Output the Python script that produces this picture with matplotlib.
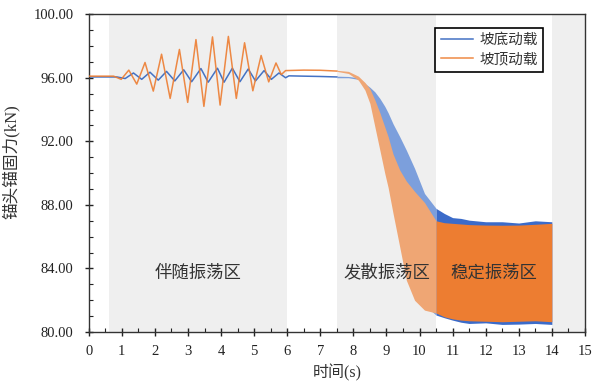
import matplotlib
matplotlib.use("Agg")
import matplotlib.pyplot as plt

plt.rcParams['font.family'] = ['Liberation Serif', 'Noto Sans CJK SC']
plt.rcParams['axes.unicode_minus'] = False

# 0 - 7.5 s: individual curves (turning points)
t_bottom = [0, 0.85, 1.1, 1.35, 1.6, 1.85, 2.1, 2.35, 2.6, 2.87, 3.11, 3.39, 3.61,
            3.89, 4.09, 4.34, 4.57, 4.82, 5.04, 5.3, 5.52, 5.75, 5.95, 6.05, 6.5, 7.0, 7.5]
f_bottom = [96.05, 96.05, 95.95, 96.3, 95.9, 96.35, 95.85, 96.4, 95.8, 96.5, 95.75, 96.58, 95.72,
            96.6, 95.72, 96.6, 95.75, 96.55, 95.8, 96.45, 95.9, 96.3, 96.0, 96.12, 96.1, 96.08, 96.05]

t_top = [0, 0.6, 0.75, 0.98, 1.21, 1.45, 1.70, 1.95, 2.20, 2.46, 2.74, 2.99, 3.24, 3.48,
         3.74, 3.97, 4.22, 4.46, 4.71, 4.96, 5.21, 5.44, 5.66, 5.82, 5.95, 6.5, 7.0, 7.5]
f_top = [96.1, 96.1, 96.1, 95.9, 96.48, 95.6, 96.96, 95.16, 97.48, 94.7, 97.78, 94.45, 98.4, 94.2,
         98.57, 94.28, 98.6, 94.7, 98.2, 95.18, 97.4, 95.74, 96.93, 96.2, 96.45, 96.48, 96.47, 96.42]

# 7.5 - 14 s: dense oscillation, upper / lower envelopes
t_band = [7.5, 7.85, 8.15, 8.35, 8.5, 8.65, 8.8, 8.95, 9.05, 9.2, 9.4, 9.6, 9.85, 10.15,
          10.5, 10.75, 11.0, 11.25, 11.5, 12.0, 12.5, 13.0, 13.5, 14.0]
bottom_hi = [96.1, 96.08, 96.0, 95.64, 95.4, 95.11, 94.7, 94.2, 93.8, 93.1, 92.3, 91.45, 90.3, 88.72,
             87.78, 87.46, 87.2, 87.15, 87.04, 86.94, 86.94, 86.86, 87.0, 86.94]
bottom_lo = [96.0, 96.0, 95.9, 95.5, 94.7, 93.2, 91.75, 90.3, 89.4, 87.8, 85.7, 83.6, 82.3, 81.7,
             81.07, 80.9, 80.75, 80.62, 80.54, 80.58, 80.48, 80.5, 80.54, 80.48]
top_hi = [96.47, 96.4, 96.1, 95.7, 95.3, 94.6, 93.8, 92.9, 92.3, 91.2, 90.2, 89.5, 88.85, 88.15,
          87.0, 86.88, 86.84, 86.8, 86.76, 86.73, 86.72, 86.73, 86.78, 86.84]
top_lo = [96.4, 96.27, 95.85, 95.22, 94.38, 92.91, 91.45, 89.98, 89.1, 87.46, 85.37, 83.27, 82.0, 81.38,
          81.2, 80.96, 80.83, 80.75, 80.71, 80.68, 80.65, 80.68, 80.71, 80.65]

zones = [(0.6, 6.0), (7.5, 10.5), (14.0, 15.0)]
zone_labels = ['伴随振荡区', '发散振荡区', '稳定振荡区']
zone_label_x = [3.3, 9.0, 12.25]

blue = '#4472C4'
orange = '#ED7D31'

fig = plt.figure(figsize=(5.92, 3.83), dpi=100)
ax = fig.add_axes([0.150, 0.133, 0.838, 0.830])

for a, b in zones:
    ax.axvspan(a, b, color='#efefef', lw=0, zorder=0)

ax.plot(t_bottom, f_bottom, color=blue, lw=1.1, label='坡底动载', zorder=2)
ax.plot(t_top, f_top, color=orange, lw=1.1, alpha=0.9, label='坡顶动载', zorder=3)

k = t_band.index(10.5)
ax.fill_between(t_band[:k + 1], bottom_lo[:k + 1], bottom_hi[:k + 1], color='#7c9fdc', lw=0, zorder=2)
ax.fill_between(t_band[:k + 1], top_lo[:k + 1], top_hi[:k + 1], color='#efa674', lw=0, zorder=3)
ax.fill_between(t_band[k:], bottom_lo[k:], bottom_hi[k:], color='#3b6bc9', lw=0, zorder=2)
ax.fill_between(t_band[k:], top_lo[k:], top_hi[k:], color=orange, lw=0, zorder=3)

for x, s in zip(zone_label_x, zone_labels):
    ax.text(x, 83.7, s, ha='center', va='center', fontsize=12.5, color='#333333', zorder=5)

ax.set_xlim(0, 15)
ax.set_ylim(80, 100)
ax.set_xticks(range(0, 16))
ax.set_xticks([i + 0.5 for i in range(15)], minor=True)
ax.set_yticks([80, 84, 88, 92, 96, 100])
ax.set_yticks(range(80, 101), minor=True)
ax.set_yticklabels(['%.2f' % v for v in [80, 84, 88, 92, 96, 100]])
ax.tick_params(which='major', direction='inout', length=6, width=1, labelsize=10.5,
               colors='#222222')
ax.tick_params(axis='y', which='major', pad=8)
ax.tick_params(axis='x', which='major', pad=6)
ax.tick_params(which='minor', direction='in', length=3, width=0.8, colors='#222222')
for sp in ax.spines.values():
    sp.set_color('#333333')
    sp.set_linewidth(1.0)

ax.set_xlabel('时间(s)', fontsize=11.5, color='#333333')
ax.set_ylabel('锚头锚固力(kN)', fontsize=12, color='#333333')
ax.xaxis.set_label_coords(0.5, -0.10)
ax.yaxis.set_label_coords(-0.138, 0.535)

leg = ax.legend(loc='upper right', bbox_to_anchor=(0.931, 0.981), fontsize=10.5,
                frameon=True, fancybox=False, framealpha=1, edgecolor='black',
                handlelength=2.2, handletextpad=0.4, labelspacing=0.4, borderpad=0.4)
leg.get_frame().set_linewidth(1.2)
for txt in leg.get_texts():
    txt.set_color('#333333')

fig.savefig('out.png', dpi=100)
